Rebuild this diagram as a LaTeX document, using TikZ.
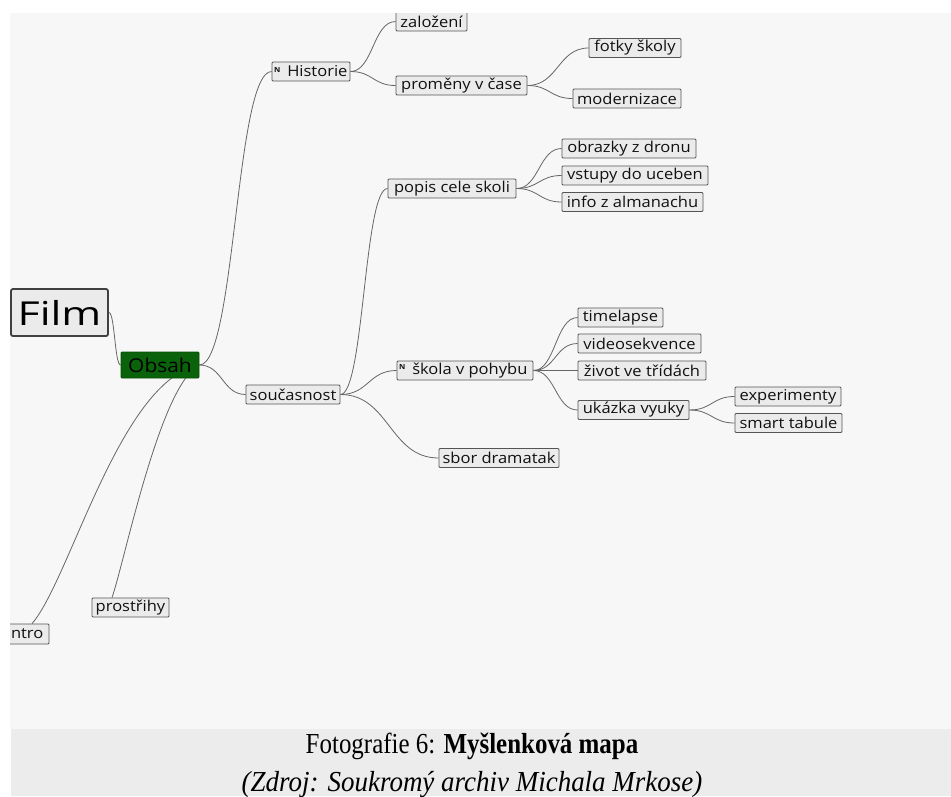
\documentclass[tikz,border=0pt]{standalone}
\usepackage{fontspec}
\setsansfont[FakeStretch=1.1]{Open Sans}
\newfontfamily\filmfont[FakeStretch=1.3]{Open Sans}
\newfontfamily\capfont[FakeStretch=0.86]{Liberation Serif}
\newfontfamily\capitfont[FakeStretch=0.93]{Liberation Serif Italic}
\usetikzlibrary{calc}
\pgfdeclarelayer{bg}
\pgfsetlayers{bg,main}
\definecolor{panel}{HTML}{F7F7F7}
\definecolor{cappanel}{HTML}{ECECEC}
\definecolor{boxfill}{HTML}{EBEBEB}
\definecolor{boxline}{HTML}{555555}
\definecolor{linkcol}{HTML}{666666}
\definecolor{obsahgreen}{HTML}{0A620A}
\definecolor{boxtext}{HTML}{111111}
\begin{document}
\begin{tikzpicture}[x=1pt,y=-1pt,
  box/.style={draw=boxline, fill=boxfill, line width=0.8pt, rounded corners=1pt,
    inner sep=0pt, minimum height=19pt, text=boxtext,
    font=\sffamily\fontsize{15}{17}\selectfont},
  link/.style={draw=linkcol, line width=0.8pt},
  hc/.style={to path={let \p1=(\tikztostart), \p2=(\tikztotarget), \n1={0.5*(\x2-\x1)} in
     .. controls ({\x1+\n1},\y1) and ({\x2-\n1},\y2) .. (\tikztotarget)}}]
\useasboundingbox (0,0) rectangle (951,796);
\begin{pgfonlayer}{bg}
\fill[panel] (10,13) rectangle (951,729);
\fill[cappanel] (11,729) rectangle (951,796);
\end{pgfonlayer}

% root and main topic
\node[draw=black!75, fill=boxfill, line width=1.8pt, rounded corners=2pt, inner sep=0pt,
  minimum width=97pt, minimum height=47pt, text=black] (film) at (59.5,312.5)
  {\filmfont\fontsize{33}{36}\selectfont Film};
\node[draw=obsahgreen!80!black, fill=obsahgreen, line width=0.8pt, rounded corners=1pt,
  inner sep=0pt, minimum width=78pt, minimum height=26pt, text=black,
  font=\sffamily\fontsize{19}{21}\selectfont] (obsah) at (160,365) {Obsah};

% Historie branch
\node[box, minimum width=78pt] (hist) at (311,71.5)
  {\makebox[74pt][l]{\raisebox{4.5pt}{\fontsize{7}{7}\selectfont\bfseries N}\hspace{7pt}Historie}};
\node[box, minimum width=71pt] (zal) at (431.5,21.5) {založení};
\node[box, minimum width=131pt] (prom) at (461.5,85.5) {proměny v čase};
\node[box, minimum width=92pt] (fotky) at (635,48) {fotky školy};
\node[box, minimum width=108pt] (modern) at (627,98.5) {modernizace};

% současnost branch
\node[box, minimum width=94pt] (souc) at (293,394.5) {současnost};
\node[box, minimum width=128pt] (popis) at (452,188.5) {popis cele skoli};
\node[box, minimum width=134pt] (dron) at (629,148.5) {obrazky z dronu};
\node[box, minimum width=146pt] (vstupy) at (635,175.5) {vstupy do uceben};
\node[box, minimum width=141pt] (info) at (632.5,202) {info z almanachu};
\node[box, minimum width=136pt] (skola) at (465,370.5)
  {\makebox[132pt][l]{\raisebox{4.5pt}{\fontsize{7}{7}\selectfont\bfseries N}\hspace{7pt}škola v pohybu}};
\node[box, minimum width=85pt] (time) at (620.5,317.5) {timelapse};
\node[box, minimum width=123pt] (video) at (639.5,343.5) {videosekvence};
\node[box, minimum width=128pt] (zivot) at (642,370.5) {život ve třídách};
\node[box, minimum width=111pt] (ukazka) at (633.5,410) {ukázka vyuky};
\node[box, minimum width=106pt] (exper) at (788,396.5) {experimenty};
\node[box, minimum width=107pt] (smart) at (788.5,423) {smart tabule};
\node[box, minimum width=120pt] (sbor) at (499,458) {sbor dramatak};

% lower topics
\node[box, minimum width=77pt] (pros) at (130.5,607.5) {prostřihy};
\node[box, minimum width=41pt, minimum height=20pt] (intro) at (28.5,634)
  {\makebox[37pt][l]{\hspace{1pt}ntro}};

% connectors
\begin{pgfonlayer}{bg}
\draw[link] (film.east) to[hc] (obsah.west);
\draw[link] (obsah.east) to[hc] (hist.west);
\draw[link] (obsah.east) to[hc] (souc.west);
\draw[link] (obsah.east) .. controls (120,380) and (70,580) .. ($(intro.north)+(3.5,0)$);
\draw[link] (obsah.east) .. controls (160,385) and (125,560) .. ($(pros.north)+(-18.5,0)$);
\draw[link] (hist.east) to[hc] (zal.west);
\draw[link] (hist.east) to[hc] (prom.west);
\draw[link] (prom.east) to[hc] (fotky.west);
\draw[link] (prom.east) to[hc] (modern.west);
\draw[link] (souc.east) to[hc] (popis.west);
\draw[link] (souc.east) to[hc] (skola.west);
\draw[link] (souc.east) to[hc] (sbor.west);
\draw[link] (popis.east) to[hc] (dron.west);
\draw[link] (popis.east) to[hc] (vstupy.west);
\draw[link] (popis.east) to[hc] (info.west);
\draw[link] (skola.east) to[hc] (time.west);
\draw[link] (skola.east) to[hc] (video.west);
\draw[link] (skola.east) to[hc] (zivot.west);
\draw[link] (skola.east) to[hc] (ukazka.west);
\draw[link] (ukazka.east) to[hc] (exper.west);
\draw[link] (ukazka.east) to[hc] (smart.west);
\end{pgfonlayer}

% white page margin over the clipped topics
\fill[white] (0,0) rectangle (10,729);
\fill[white] (0,0) rectangle (951,12.6);

% caption
\node[font=\capfont\fontsize{29}{31}\selectfont, anchor=base, inner sep=0pt] (cap1) at (472,753)
  {Fotografie 6: \textbf{Myšlenková mapa}};
\node[font=\capitfont\fontsize{29}{31}\selectfont, anchor=base, inner sep=0pt] (cap2) at (472,791)
  {(Zdroj: Soukromý archiv Michala Mrkose)};
\end{tikzpicture}
\end{document}
